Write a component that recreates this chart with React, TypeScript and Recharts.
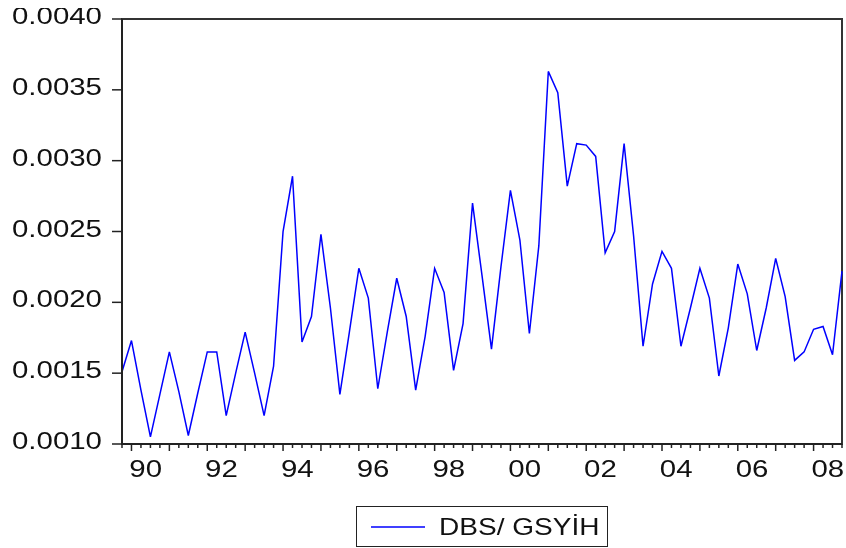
import React from 'react';
import { LineChart, Line, XAxis, YAxis, ReferenceArea, Legend } from 'recharts';

// Quarterly observations, 1989Q4 .. 2008Q4
const startYear = 1989;
const startQuarter = 4;
const dbsGsyih: number[] = [
  0.00151, 0.00173, 0.00138, 0.00105, 0.00135, 0.00165, 0.00137, 0.00106,
  0.00136, 0.00165, 0.00165, 0.00120, 0.00150, 0.00179, 0.00150, 0.00120,
  0.00155, 0.00250, 0.00289, 0.00172, 0.00190, 0.00248, 0.00196, 0.00135,
  0.00179, 0.00224, 0.00203, 0.00139, 0.00179, 0.00217, 0.00190, 0.00138,
  0.00176, 0.00224, 0.00207, 0.00152, 0.00185, 0.00270, 0.00219, 0.00167,
  0.00225, 0.00279, 0.00244, 0.00178, 0.00240, 0.00363, 0.00348, 0.00282,
  0.00312, 0.00311, 0.00303, 0.00235, 0.00250, 0.00312, 0.00247, 0.00169,
  0.00213, 0.00236, 0.00224, 0.00169, 0.00196, 0.00224, 0.00203, 0.00148,
  0.00182, 0.00227, 0.00206, 0.00166, 0.00196, 0.00231, 0.00204, 0.00159,
  0.00165, 0.00181, 0.00183, 0.00163, 0.00222,
];
const quarters: string[] = dbsGsyih.map((_, i) => {
  const q0 = startQuarter - 1 + i;
  return `${startYear + Math.floor(q0 / 4)}Q${(q0 % 4) + 1}`;
});

const yTicks = [0.001, 0.0015, 0.002, 0.0025, 0.003, 0.0035, 0.004];
const yearLabels = ['90', '92', '94', '96', '98', '00', '02', '04', '06', '08'];
const yearLabelPositions = [2.5, 10.5, 18.5, 26.5, 34.5, 42.5, 50.5, 58.5, 66.5, 74.5];
const quarterTicks: number[] = dbsGsyih.map((_, i) => i);
const seriesName = 'DBS/ GSYİH';

const data = dbsGsyih.map((v, i) => ({ idx: i, quarter: quarters[i], value: v }));

const FONT = '"Liberation Sans", Arial, sans-serif';
const SX = 1.28;

const XTick = (props: any) => {
  const { x, y, payload } = props;
  const v = payload.value as number;
  if (Number.isInteger(v)) {
    const major = quarters[v] && quarters[v].endsWith('Q1');
    return <line x1={x} x2={x} y1={y} y2={y + (major ? 7 : 4)} stroke="#222" strokeWidth={1.5} />;
  }
  const k = yearLabelPositions.indexOf(v);
  if (k < 0) return null;
  return (
    <g transform={`translate(${x},${y + 33}) scale(${SX},1)`}>
      <text x={0} y={0} textAnchor="middle" fontFamily={FONT} fontSize={23} fill="#111">
        {yearLabels[k]}
      </text>
    </g>
  );
};

const YTick = (props: any) => {
  const { x, y, payload } = props;
  return (
    <g transform={`translate(${x},${y + 5}) scale(${SX},1)`}>
      <text x={0} y={0} textAnchor="end" fontFamily={FONT} fontSize={23} fill="#111">
        {(payload.value as number).toFixed(4)}
      </text>
    </g>
  );
};

const LegendBox = () => (
  <div
    style={{
      boxSizing: 'border-box',
      width: 252,
      height: 41,
      border: '1px solid #222',
      position: 'relative',
      background: '#fff',
    }}
  >
    <svg width={250} height={39} style={{ position: 'absolute', left: 0, top: 0 }}>
      <line x1={14} x2={68} y1={20} y2={20} stroke="#0000ff" strokeWidth={1.5} />
      <g transform={`translate(82,28) scale(1.22,1)`}>
        <text x={0} y={0} fontFamily={FONT} fontSize={23} fill="#111">
          {seriesName}
        </text>
      </g>
    </svg>
  </div>
);

export default function App() {
  return (
    <div style={{ position: 'fixed', top: 8, left: 8, width: 838, height: 540 }}>
      <LineChart
        width={838}
        height={540}
        data={data}
        margin={{ top: 11, right: 4, bottom: 1, left: 0 }}
      >
        <ReferenceArea
          x1={0}
          x2={76}
          y1={0.001}
          y2={0.004}
          fill="none"
          stroke="#333"
          strokeWidth={2}
          fillOpacity={0}
          ifOverflow="visible"
        />
        <XAxis
          dataKey="idx"
          type="number"
          domain={[0, 76]}
          ticks={[...quarterTicks, ...yearLabelPositions]}
          interval={0}
          tick={<XTick />}
          tickLine={false}
          tickSize={0}
          tickMargin={0}
          axisLine={{ stroke: '#222', strokeWidth: 2 }}
          height={62}
          allowDecimals
        />
        <YAxis
          type="number"
          domain={[0.001, 0.004]}
          ticks={yTicks}
          interval={0}
          width={114}
          tick={<YTick />}
          tickSize={10}
          tickMargin={10}
          tickLine={{ stroke: '#222', strokeWidth: 1.5 }}
          axisLine={{ stroke: '#222', strokeWidth: 2 }}
        />
        <Line
          type="linear"
          dataKey="value"
          name={seriesName}
          stroke="#0000ff"
          strokeWidth={1.5}
          dot={false}
          isAnimationActive={false}
        />
        <Legend
          verticalAlign="bottom"
          align="left"
          content={<LegendBox />}
          wrapperStyle={{ left: 348, width: 252, height: 41, bottom: 1 }}
        />
      </LineChart>
    </div>
  );
}
